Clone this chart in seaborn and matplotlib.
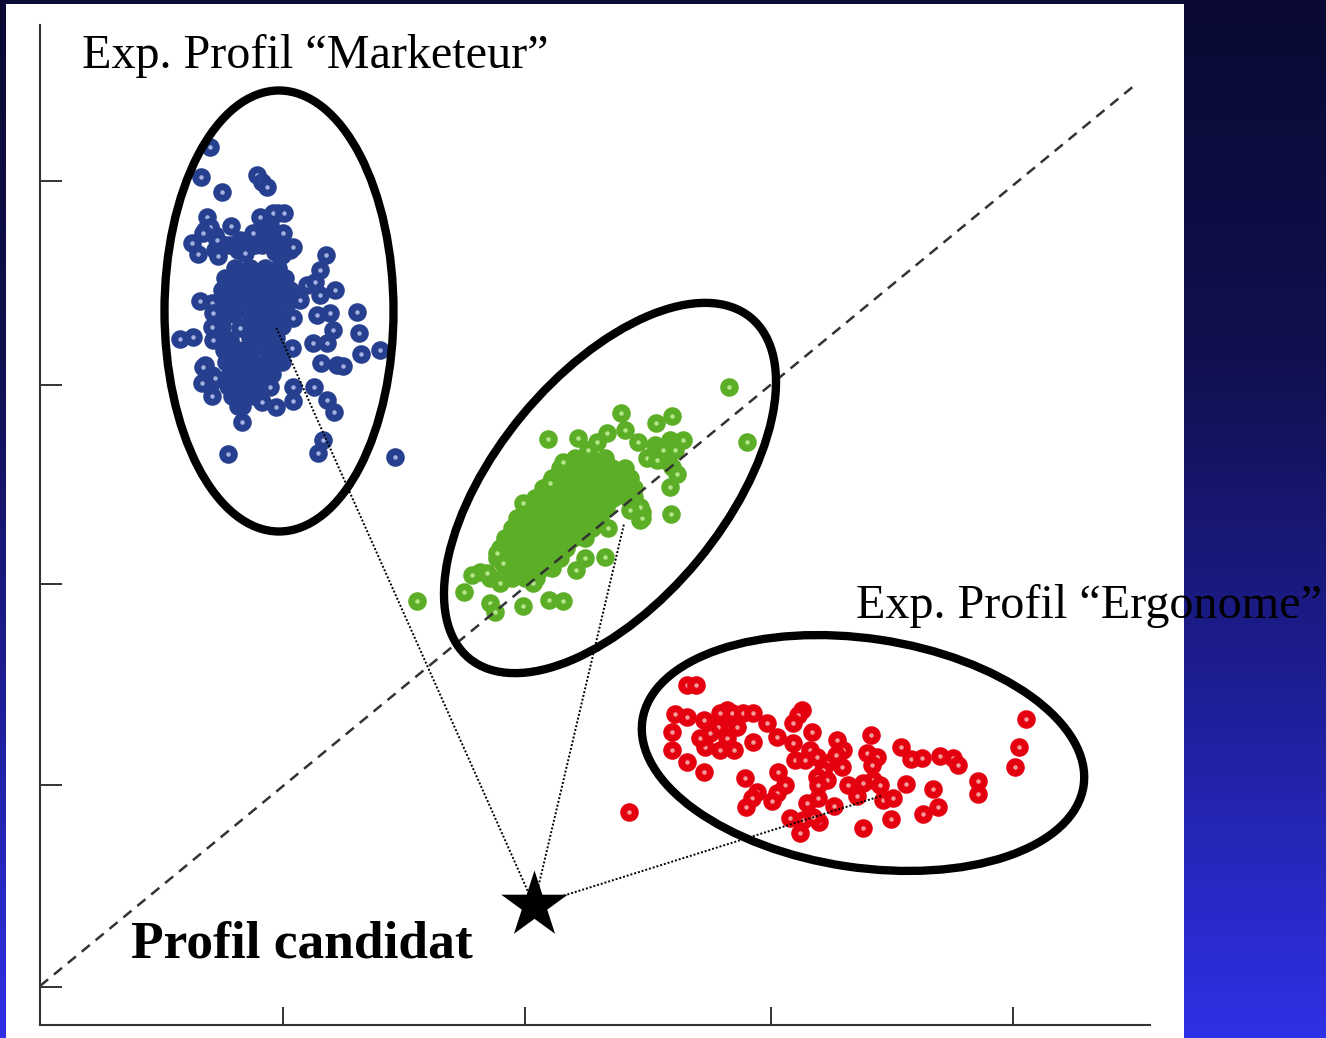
import numpy as np
import pandas as pd
import matplotlib
matplotlib.use('Agg')
import matplotlib.pyplot as plt
from matplotlib.colors import LinearSegmentedColormap
from matplotlib.patches import Ellipse, Rectangle
import seaborn as sns

# Values (axis units, y axis runs downwards)
blue_x = [210, 201, 222, 257, 262, 267, 207, 210, 231, 192, 198, 218, 217, 203, 260, 273, 284, 283, 253, 293,
          245, 326, 320, 335, 307, 320, 315, 300, 293, 357, 359, 380, 361, 317, 330, 333, 313, 327, 321, 337,
          343, 292, 200, 180, 193, 203, 202, 212, 215, 242, 228, 318, 323, 395, 314, 327, 334, 293, 293, 276,
          262, 270, 212, 213, 212, 213, 240]
blue_y = [147, 177, 192, 175, 182, 187, 217, 227, 226, 243, 254, 256, 240, 233, 217, 213, 213, 233, 233, 247,
          253, 255, 270, 290, 285, 295, 282, 300, 318, 312, 333, 350, 354, 315, 313, 330, 343, 343, 363, 365,
          366, 348, 301, 339, 337, 367, 383, 396, 378, 422, 454, 453, 440, 457, 387, 400, 412, 387, 401, 407,
          402, 387, 303, 313, 327, 340, 328]
blue_core_x = [235, 250, 265, 278, 225, 242, 258, 272, 285, 222, 235, 250, 264, 278, 290, 218, 232, 246, 260, 274,
               288, 220, 234, 250, 264, 278, 222, 256, 270, 282, 222, 230, 250, 264, 276, 224, 238, 252, 268, 280,
               226, 240, 254, 268, 282, 230, 244, 258, 272, 228, 240, 252, 264, 232, 244, 254, 238, 242, 230, 238,
               262, 270, 275, 282, 290, 262, 270, 205, 215, 225, 240, 255, 215, 278, 205, 212, 205, 210, 298, 278]
blue_core_y = [268, 268, 268, 268, 278, 278, 278, 278, 278, 290, 290, 290, 290, 290, 290, 302, 302, 302, 302, 302,
               302, 314, 314, 314, 314, 314, 326, 326, 326, 326, 338, 340, 338, 338, 338, 350, 350, 350, 350, 350,
               362, 362, 362, 362, 362, 374, 374, 374, 374, 386, 386, 386, 386, 396, 396, 396, 406, 406, 245, 250,
               245, 240, 252, 255, 250, 228, 225, 230, 235, 245, 240, 245, 250, 213, 365, 375, 380, 385, 298, 245]

green_x = [729, 747, 621, 656, 672, 683, 663, 675, 625, 638, 607, 597, 548, 578, 588, 647, 657, 672, 677, 670,
           671, 642, 640, 630, 608, 605, 585, 576, 563, 550, 523, 503, 497, 472, 487, 464, 490, 523, 549, 563,
           417, 495, 533, 500]
green_y = [387, 442, 413, 423, 416, 440, 450, 450, 430, 442, 433, 442, 439, 438, 450, 458, 460, 467, 474, 487,
           514, 518, 507, 510, 528, 557, 558, 570, 462, 483, 503, 563, 553, 575, 573, 592, 603, 606, 600, 601,
           601, 612, 583, 583]
green_core_x = [575, 590, 605, 560, 572, 585, 598, 612, 625, 552, 565, 578, 590, 603, 616, 630, 543, 556, 570, 583,
                596, 610, 624, 634, 535, 548, 561, 574, 587, 600, 613, 628, 525, 540, 553, 566, 580, 593, 606, 517,
                532, 546, 560, 574, 588, 600, 512, 525, 540, 553, 567, 580, 592, 505, 518, 532, 546, 560, 573, 585,
                500, 513, 526, 540, 553, 566, 497, 510, 523, 536, 549, 560, 505, 518, 530, 542, 552, 512, 525, 536,
                632, 642, 640, 634, 655, 665, 670, 480, 490]
green_core_y = [458, 458, 458, 468, 468, 468, 468, 468, 468, 478, 478, 478, 478, 478, 478, 478, 488, 488, 488, 488,
                488, 488, 488, 488, 498, 498, 498, 498, 498, 498, 498, 498, 508, 508, 508, 508, 508, 508, 508, 518,
                518, 518, 518, 518, 518, 518, 528, 528, 528, 528, 528, 528, 528, 538, 538, 538, 538, 538, 538, 538,
                548, 548, 548, 548, 548, 548, 558, 558, 558, 558, 558, 558, 568, 568, 568, 568, 568, 578, 578, 578,
                505, 512, 520, 497, 445, 460, 440, 572, 578]

red_x = [629, 687, 696, 675, 687, 672, 672, 687, 704, 704, 727, 720, 732, 743, 753, 718, 727, 705, 700, 720,
         734, 710, 730, 737, 753, 767, 777, 802, 798, 793, 812, 793, 837, 843, 810, 795, 817, 827, 842, 823,
         817, 827, 818, 871, 867, 877, 872, 873, 863, 848, 857, 880, 883, 893, 906, 901, 911, 922, 940, 953,
         958, 933, 938, 923, 891, 863, 978, 978, 1015, 1019, 1026, 778, 745, 785, 777, 772, 757, 752, 746, 807,
         818, 834, 790, 803, 819, 800, 813, 836, 805]
red_y = [812, 685, 685, 714, 717, 732, 750, 762, 772, 720, 710, 713, 713, 713, 713, 727, 738, 747, 738, 750,
         750, 733, 727, 727, 742, 723, 737, 710, 715, 723, 732, 743, 740, 750, 750, 760, 757, 763, 767, 770,
         777, 780, 785, 735, 753, 757, 765, 780, 783, 785, 796, 785, 800, 798, 784, 747, 759, 758, 756, 758,
         765, 789, 807, 814, 819, 828, 781, 794, 767, 747, 719, 772, 778, 785, 793, 801, 792, 798, 807, 803,
         798, 806, 818, 820, 822, 833, 817, 755, 760]

x_ticks = [283, 525, 771, 1013]
y_ticks = [181, 385, 584, 785, 987]
diag_x = [40, 1135]
diag_y = [986, 85]
star_x = 534
star_y = 905
# cluster anchor points the dotted lines go to
link_x = [276, 624, 881]
link_y = [327, 524, 796]
# centre x, centre y, width, height, angle
ellipses = [(279, 311, 229, 441, 0), (610, 488, 442, 228, -50.4), (863, 753, 446, 229, 8.5)]

sns.set_style('white')
plt.rcParams['font.family'] = ['Liberation Serif', 'DejaVu Serif']

fig = plt.figure(figsize=(13.26, 10.38), dpi=100)

# slide background and white panel
bg = fig.add_axes([0, 0, 1, 1], zorder=0)
slide = LinearSegmentedColormap.from_list('slide', ['#0a0a34', '#10104e', '#1e1e96', '#3030e6'])
bg.imshow(np.linspace(0, 1, 256).reshape(-1, 1), cmap=slide, aspect='auto', extent=[0, 1326, 1038, 0])
bg.add_patch(Rectangle((6, 4), 1178, 1034, color='white', lw=0))
bg.set_xlim(0, 1326)
bg.set_ylim(1038, 0)
bg.axis('off')

ax = fig.add_axes([40 / 1326, 13 / 1038, 1110 / 1326, 1000 / 1038], zorder=1)
ax.patch.set_visible(False)

marker = dict(s=70, linewidth=5, zorder=3)
blue_core = pd.DataFrame({'x': blue_core_x, 'y': blue_core_y})
green_core = pd.DataFrame({'x': green_core_x, 'y': green_core_y})
sns.scatterplot(data=blue_core, x='x', y='y', color='#26408f', edgecolor='#26408f', ax=ax, **marker)
sns.scatterplot(x=blue_x, y=blue_y, color='#a3b1e0', edgecolor='#26408f', ax=ax, **marker)
sns.scatterplot(data=green_core, x='x', y='y', color='#5bae26', edgecolor='#5bae26', ax=ax, **marker)
sns.scatterplot(x=green_x, y=green_y, color='#b4e68c', edgecolor='#5bae26', ax=ax, **marker)
sns.scatterplot(x=red_x, y=red_y, color='#f59a9a', edgecolor='#e4000f', ax=ax, **marker)

sns.lineplot(x=diag_x, y=diag_y, color='#333333', linewidth=1.8, linestyle=(0, (4.2, 3)), ax=ax, zorder=4,
             sort=False, errorbar=None)

for lx, ly in zip(link_x, link_y):
    ax.plot([star_x, lx], [star_y, ly], color='black', linewidth=1.4, linestyle=(0, (1, 1)), zorder=5)

ax.scatter([star_x], [star_y], marker='*', s=2540, color='black', linewidth=0, zorder=6)

for cx, cy, w, h, angle in ellipses:
    ax.add_patch(Ellipse((cx, cy), w, h, angle=angle, fill=False, edgecolor='black', linewidth=6, zorder=7))

ax.set_xlim(40, 1150)
ax.set_ylim(1025, 25)
ax.set_xticks(x_ticks)
ax.set_yticks(y_ticks)
ax.set_xlabel('')
ax.set_ylabel('')
ax.tick_params(axis='x', direction='in', length=13, width=1.4, color='#333333', labelbottom=False, bottom=True)
ax.tick_params(axis='y', direction='in', length=16, width=1.4, color='#333333', labelleft=False, left=True)
sns.despine(ax=ax)
for side in ['left', 'bottom']:
    ax.spines[side].set_color('#333333')
    ax.spines[side].set_linewidth(1.5)

ax.text(82, 68, 'Exp. Profil \u201cMarketeur\u201d', fontsize=34.7, color='black', va='baseline', zorder=8)
ax.text(856, 618, 'Exp. Profil \u201cErgonome\u201d', fontsize=34.7, color='black', va='baseline', zorder=8)
ax.text(131, 957, 'Profil candidat', fontsize=38.5, fontweight='bold', color='black', va='baseline', zorder=8)

plt.savefig('out.png', dpi=100)
